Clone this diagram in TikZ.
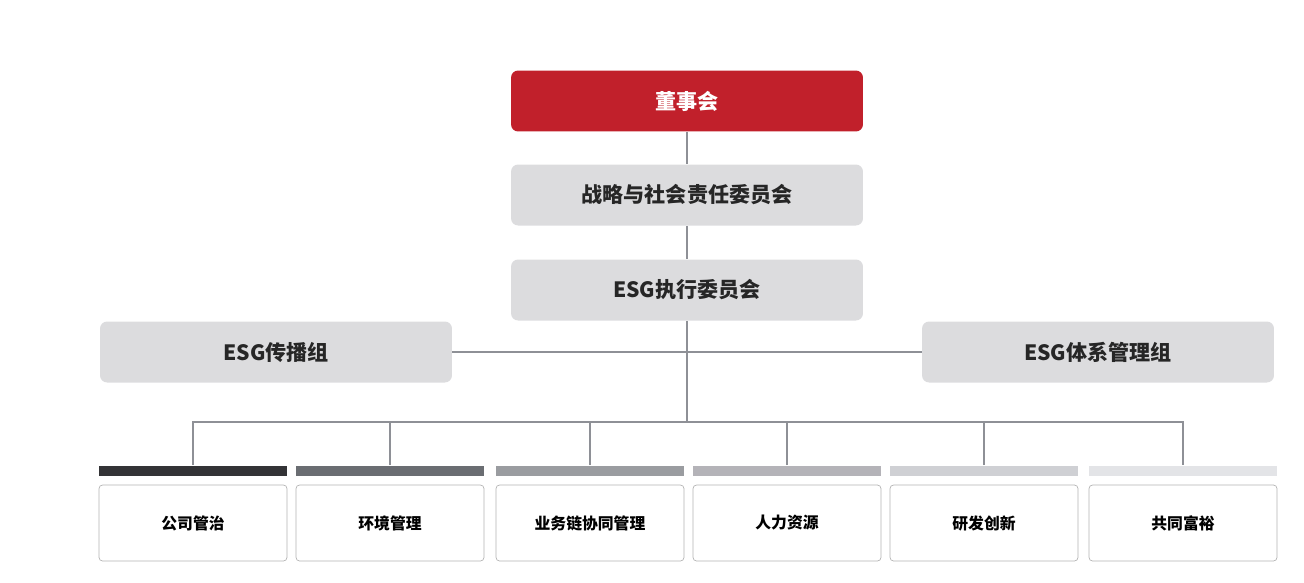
\documentclass[tikz,border=0pt]{standalone}
\usepackage{fontspec}
\setmainfont{Noto Sans CJK SC}
\usetikzlibrary{positioning}
\definecolor{boardred}{HTML}{C1202B}
\definecolor{boxgray}{HTML}{DCDCDE}
\definecolor{linegray}{HTML}{8E9096}
\begin{document}
\begin{tikzpicture}[
  x=0.02cm, y=-0.02cm,
  every node/.style={font=\bfseries},
  topbox/.style={rounded corners=4pt, minimum width=7.04cm, minimum height=1.22cm, inner sep=0pt, font=\bfseries\large},
  grpbox/.style={topbox, fill=boxgray, text=black!85},
  leafbox/.style={draw=black!30, rounded corners=2pt, minimum width=3.76cm, minimum height=1.52cm, inner sep=0pt, font=\bfseries\small},
  link/.style={draw=linegray, line width=0.6pt}
]
\useasboundingbox (0,0) rectangle (1304,582);
\node[topbox, fill=boardred, text=white] (board) at (687,101) {董事会};
\node[grpbox] (strat) at (687,195) {战略与社会责任委员会};
\node[grpbox] (exec) at (687,290) {ESG执行委员会};
\node[grpbox] (comm) at (276,352) {ESG传播组};
\node[grpbox] (sys) at (1098,352) {ESG体系管理组};
\coordinate (hub) at (687,422);
\draw[link] (board) -- (strat);
\draw[link] (strat) -- (exec);
\draw[link] (exec) -- (hub);
\draw[link] (comm.east) -- (sys.west);
\foreach \name/\cx/\col/\txt in {
  gov/193/333336/公司管治,
  env/390/6A6D72/环境管理,
  sup/590/9A9CA0/业务链协同管理,
  hr/787/B4B3B8/人力资源,
  rd/984/CFD0D4/研发创新,
  pros/1183/E3E4E7/共同富裕} {
  \definecolor{barcol}{HTML}{\col}
  \fill[barcol] (\cx-94,466) rectangle (\cx+94,476);
  \node[leafbox] (\name) at (\cx,523) {\txt};
  \coordinate (\name top) at (\cx,465);
}
\draw[link] (govtop) |- (hub) -| (prostop);
\foreach \name in {env,sup,hr,rd} \draw[link] (\name top) -- (\name top |- hub);
\end{tikzpicture}
\end{document}
